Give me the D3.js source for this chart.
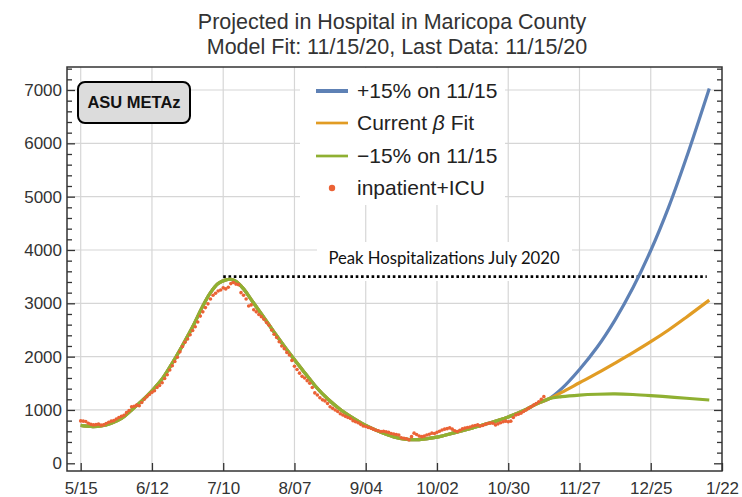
<!DOCTYPE html>
<html>
<head>
<meta charset="utf-8">
<script src="https://cdn.jsdelivr.net/npm/d3@7"></script>
<style>
  body { margin: 0; background: #fff; }
  svg { display: block; font-family: "Liberation Sans", Arial, sans-serif; }
</style>
</head>
<body>
<svg width="742" height="497"></svg>
<script>
// Ejes
const tickDates = ["2020-05-15", "2020-06-12", "2020-07-10", "2020-08-07", "2020-09-04",
  "2020-10-02", "2020-10-30", "2020-11-27", "2020-12-25", "2021-01-22"];
const tickLabels = ["5/15", "6/12", "7/10", "8/07", "9/04", "10/02", "10/30", "11/27", "12/25", "1/22"];
const yTicks = [0, 1000, 2000, 3000, 4000, 5000, 6000, 7000];

// inpatient+ICU, un valor por día desde obsStart
const obsStart = "2020-05-15";
const observed = [
  795, 790, 785, 750, 730,
  720, 725, 735, 715, 720, 745, 770,
  790, 800, 830, 860, 880, 900, 950,
  990, 1060, 1070, 1090, 1080, 1140, 1200,
  1250, 1290, 1330, 1360, 1420, 1460, 1510,
  1590, 1660, 1750, 1830, 1910, 1990, 2090,
  2190, 2270, 2330, 2410, 2490, 2560, 2650,
  2760, 2840, 2920, 2990, 3080, 3150, 3190,
  3230, 3250, 3290, 3270, 3300, 3370, 3390,
  3360, 3350, 3200, 3150, 3080, 2950, 2970,
  2880, 2840, 2790, 2750, 2700, 2640, 2590,
  2500, 2420, 2360, 2280, 2200, 2150, 2080,
  2030, 1930, 1820, 1760, 1690, 1630, 1600,
  1550, 1500, 1420, 1320, 1280, 1230, 1190,
  1170, 1120, 1060, 1030, 1000, 970, 930,
  905, 880, 860, 840, 800, 780, 760,
  730, 700, 690, 670, 660, 640, 620,
  610, 595, 600, 590, 580, 560, 550,
  540, 530, 480, 470, 460, 440, 500,
  565, 540, 510, 500, 510, 530, 545,
  565, 560, 580, 600, 625, 640, 650,
  665, 640, 610, 595, 620, 645, 660,
  670, 680, 700, 710, 720, 700, 710,
  730, 745, 755, 750, 720, 740, 760,
  780, 790, 780, 790, 860, 905, 920,
  940, 970, 1000, 1030, 1060, 1090, 1120,
  1155, 1200, 1250
];

// Ajuste del modelo hasta 11/15 (común a las tres curvas)
const fitDates = ["2020-05-15", "2020-05-19", "2020-05-23", "2020-05-27", "2020-05-31", "2020-06-04",
  "2020-06-08", "2020-06-12", "2020-06-16", "2020-06-20", "2020-06-24", "2020-06-28", "2020-07-02",
  "2020-07-05", "2020-07-08", "2020-07-11", "2020-07-13", "2020-07-15", "2020-07-18", "2020-07-21",
  "2020-07-25", "2020-07-30", "2020-08-04", "2020-08-10", "2020-08-15", "2020-08-20", "2020-08-25",
  "2020-08-31", "2020-09-04", "2020-09-10", "2020-09-15", "2020-09-20", "2020-09-25", "2020-10-02",
  "2020-10-09", "2020-10-16", "2020-10-23", "2020-10-30", "2020-11-06", "2020-11-10", "2020-11-15"];
const fitValues = [710, 690, 700, 750, 840, 1000,
  1170, 1360, 1580, 1880, 2210, 2560, 2950,
  3200, 3370, 3440, 3450, 3410, 3270, 3070,
  2800, 2460, 2130, 1760, 1460, 1210, 1010,
  820, 710, 580, 495, 450, 445, 490,
  575, 665, 760, 870, 1010, 1110, 1210];

// Proyecciones después de 11/15
const projDates = ["2020-11-20", "2020-11-27", "2020-12-04", "2020-12-11", "2020-12-18",
  "2020-12-25", "2021-01-01", "2021-01-08", "2021-01-17"];
const plus15 = [1400, 1760, 2180, 2690, 3290, 3990, 4800, 5730, 7030];
const currentFit = [1330, 1510, 1690, 1880, 2075, 2280, 2500, 2740, 3060];
const minus15 = [1250, 1280, 1295, 1300, 1290, 1270, 1245, 1220, 1187];

const peakValue = 3500;
const peakFrom = "2020-07-10", peakTo = "2021-01-16";

const colors = { plus: "#5e81b5", current: "#e19c24", minus: "#8fb032", obs: "#eb6235" };

const parse = d3.timeParse("%Y-%m-%d");
const svg = d3.select("svg");
const frame = { left: 67, right: 722, top: 67, bottom: 471 };

const x = d3.scaleTime()
  .domain([parse(tickDates[0]), parse(tickDates[tickDates.length - 1])])
  .range([80.7, 722]);
const y = d3.scaleLinear().domain([0, 7000]).range([463.3, 90]);

// Títulos
svg.append("text").attr("x", 392).attr("y", 29).attr("text-anchor", "middle")
  .attr("font-size", 21.5).attr("fill", "#333").text("Projected in Hospital in Maricopa County");
svg.append("text").attr("x", 397).attr("y", 54).attr("text-anchor", "middle")
  .attr("font-size", 21.5).attr("fill", "#333").text("Model Fit: 11/15/20, Last Data: 11/15/20");

// Rejilla
const grid = svg.append("g").attr("stroke", "#d6d6d6").attr("stroke-width", 1.2);
grid.selectAll("line.v").data(tickDates.slice(0, -1)).join("line").attr("class", "v")
  .attr("x1", d => x(parse(d))).attr("x2", d => x(parse(d)))
  .attr("y1", frame.top).attr("y2", frame.bottom);
grid.selectAll("line.h").data(yTicks.filter(v => v > 0)).join("line").attr("class", "h")
  .attr("x1", frame.left).attr("x2", frame.right)
  .attr("y1", d => y(d)).attr("y2", d => y(d));

// Cajas blancas de la leyenda y del texto del pico
svg.append("rect").attr("x", 300).attr("y", 68).attr("width", 205).attr("height", 137).attr("fill", "#fff");
svg.append("rect").attr("x", 317).attr("y", 242).attr("width", 255).attr("height", 39).attr("fill", "#fff");

// Ejes
const styleAxis = g => {
  g.select(".domain").remove();
  g.attr("font-family", null).attr("font-size", 17);
  g.selectAll(".tick line").attr("stroke", "#333").attr("stroke-width", 1.3);
  g.selectAll(".tick text").attr("fill", "#333");
};
const minor = d3.range(200, 7500, 200).filter(v => v % 1000 !== 0);

svg.append("g").attr("transform", `translate(0,${frame.bottom})`)
  .call(d3.axisBottom(x).tickValues(tickDates.map(parse)).tickFormat((d, i) => tickLabels[i])
    .tickSizeInner(-8).tickSizeOuter(0).tickPadding(11))
  .call(styleAxis);

svg.append("g").attr("transform", `translate(${frame.left},0)`)
  .call(d3.axisLeft(y).tickValues(yTicks).tickFormat(d3.format("d"))
    .tickSizeInner(-8).tickSizeOuter(0).tickPadding(5))
  .call(styleAxis);
svg.append("g").attr("transform", `translate(${frame.left},0)`)
  .call(d3.axisLeft(y).tickValues(minor).tickFormat("").tickSizeInner(-5).tickSizeOuter(0))
  .call(styleAxis);
svg.append("g").attr("transform", `translate(${frame.right},0)`)
  .call(d3.axisRight(y).tickValues(yTicks).tickFormat("").tickSizeInner(-8).tickSizeOuter(0))
  .call(styleAxis);
svg.append("g").attr("transform", `translate(${frame.right},0)`)
  .call(d3.axisRight(y).tickValues(minor).tickFormat("").tickSizeInner(-5).tickSizeOuter(0))
  .call(styleAxis);

svg.append("rect").attr("x", frame.left).attr("y", frame.top)
  .attr("width", frame.right - frame.left).attr("height", frame.bottom - frame.top)
  .attr("fill", "none").attr("stroke", "#333").attr("stroke-width", 1.5);

// Línea del pico de julio
svg.append("line")
  .attr("x1", x(parse(peakFrom))).attr("x2", x(parse(peakTo)))
  .attr("y1", y(peakValue)).attr("y2", y(peakValue))
  .attr("stroke", "#000").attr("stroke-width", 2.6).attr("stroke-dasharray", "2.6,2.7");
svg.append("text").attr("x", 444).attr("y", 264).attr("text-anchor", "middle")
  .attr("font-family", "Lato, 'Open Sans', sans-serif").attr("font-size", 16.7).attr("fill", "#111")
  .text("Peak Hospitalizations July 2020");

// Curvas del modelo
const shared = fitDates.map((d, i) => ({ date: parse(d), value: fitValues[i] }));
const withProj = vals => shared.concat(projDates.map((d, i) => ({ date: parse(d), value: vals[i] })));
const line = d3.line().x(d => x(d.date)).y(d => y(d.value)).curve(d3.curveCatmullRom.alpha(0.5));

[[plus15, colors.plus], [currentFit, colors.current], [minus15, colors.minus]].forEach(([vals, c]) => {
  svg.append("path").datum(withProj(vals))
    .attr("d", line).attr("fill", "none").attr("stroke", c).attr("stroke-width", 3.2)
    .attr("stroke-linejoin", "round");
});

// Datos observados
const start = parse(obsStart);
svg.append("g").selectAll("circle").data(observed).join("circle")
  .attr("cx", (d, i) => x(d3.timeDay.offset(start, i)))
  .attr("cy", d => y(d))
  .attr("r", 1.8).attr("fill", colors.obs);

// Caja ASU METAz
svg.append("rect").attr("x", 78).attr("y", 82).attr("width", 112).attr("height", 41).attr("rx", 7)
  .attr("fill", "#dcdcdc").attr("stroke", "#000").attr("stroke-width", 2);
svg.append("text").attr("x", 134).attr("y", 108).attr("text-anchor", "middle")
  .attr("font-size", 16.5).attr("font-weight", "bold").attr("fill", "#111").text("ASU METAz");

// Leyenda
const legend = svg.append("g").attr("font-size", 21).attr("fill", "#222");
const items = [
  { label: "+15% on 11/15", color: colors.plus, w: 4, y: 91 },
  { label: "Current", color: colors.current, w: 2.7, y: 123, beta: true },
  { label: "\u221215% on 11/15", color: colors.minus, w: 2.7, y: 156 }
];
items.forEach(it => {
  legend.append("line").attr("x1", 316).attr("x2", 348).attr("y1", it.y).attr("y2", it.y)
    .attr("stroke", it.color).attr("stroke-width", it.w);
  const t = legend.append("text").attr("x", 357).attr("y", it.y + 7);
  t.append("tspan").text(it.label);
  if (it.beta) {
    t.append("tspan").attr("font-style", "italic").text(" \u03b2");
    t.append("tspan").text(" Fit");
  }
});
legend.append("circle").attr("cx", 332).attr("cy", 188).attr("r", 3.2).attr("fill", colors.obs);
legend.append("text").attr("x", 357).attr("y", 195).text("inpatient+ICU");
</script>
</body>
</html>
